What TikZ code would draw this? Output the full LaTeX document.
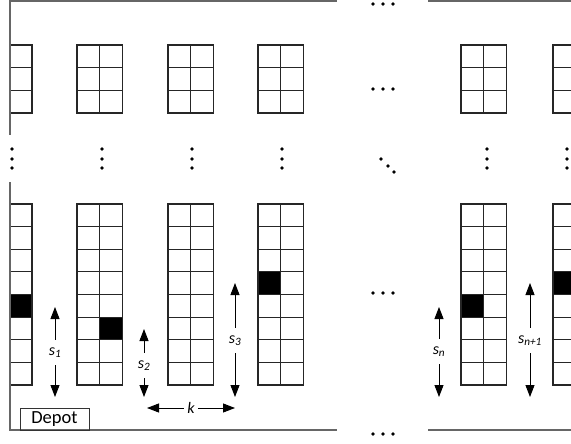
\documentclass[tikz,border=0pt]{standalone}
\usepackage{fontspec}
\setmainfont{Carlito}
\usetikzlibrary{arrows.meta}
\begin{document}
\begin{tikzpicture}[x=1pt,y=-1pt,
  cell/.style={draw=black!85, line width=1.1pt},
  wall/.style={draw=black!60, line width=1.8pt},
  dimarrow/.style={-{Triangle[length=12pt,width=9pt]}, line width=0.9pt},
  lbl/.style={font=\fontsize{16}{16}\selectfont\itshape, inner sep=0pt, minimum height=25pt, minimum width=14pt},
  depotbox/.style={draw=black!80, line width=1pt, font=\fontsize{18.5}{18.5}\selectfont, inner sep=0pt, minimum width=69pt, minimum height=22pt},
  bigdot/.style={fill=black}]
\useasboundingbox (0,0) rectangle (571,444);
% ---------- blocks ----------
\begin{scope}
\clip (10,-5) rectangle (571,444);
% black cells
\fill (9.25,294.5) rectangle ++(22.75,22.6);
\fill (99.75,317.1) rectangle ++(22.75,22.6);
\fill (258,271.9) rectangle ++(22.75,22.6);
\fill (461,294.5) rectangle ++(22.75,22.6);
\fill (553,271.9) rectangle ++(22.75,22.6);
\foreach \bx in {-13.5,77,168,258,461,553} {
  % top block: 3 rows
  \draw[cell] (\bx,45) rectangle ++(45.5,68);
  \draw[cell] (\bx+22.75,45) -- ++(0,68);
  \foreach \r in {1,2} \draw[cell] (\bx,45+\r*22.667) -- ++(45.5,0);
  % bottom block: 8 rows
  \draw[cell] (\bx,204) rectangle ++(45.5,181);
  \draw[cell] (\bx+22.75,204) -- ++(0,181);
  \foreach \r in {1,...,7} \draw[cell] (\bx,204+\r*22.625) -- ++(45.5,0);
}
\end{scope}
% ---------- walls ----------
\draw[wall] (10,0) -- (10,135);
\draw[wall] (10,182) -- (10,430);
\draw[wall] (9.1,1) -- (337,1);
\draw[wall] (428,1) -- (571,1);
\draw[wall] (9.1,430) -- (337,430);
\draw[wall] (428,430) -- (571,430);
% ---------- dots ----------
\foreach \y in {4,89,293,434}
  \foreach \x in {373,383,393} \fill[bigdot] (\x,\y) circle (1.9pt);
\foreach \x in {12,102,192,282,487,567}
  \foreach \y in {149,159,168} \fill[bigdot] (\x,\y) circle (1.9pt);
\fill[bigdot] (381,159) circle (1.9pt);
\fill[bigdot] (388,166) circle (1.9pt);
\fill[bigdot] (394,172) circle (1.9pt);
% ---------- depot ----------
\node[depotbox] (depot) at (54.5,419) {Depot};
% ---------- dimension arrows ----------
\node[lbl] (s1) at (55,352.5) {s\textsubscript{1}};
\coordinate (s1u) at (55,307);
\coordinate (s1d) at (55,397);
\draw[dimarrow] (s1.north) -- (s1u);
\draw[dimarrow] (s1.south) -- (s1d);
\node[lbl] (s2) at (144,365.5) {s\textsubscript{2}};
\coordinate (s2u) at (144,329);
\coordinate (s2d) at (144,397);
\draw[dimarrow] (s2.north) -- (s2u);
\draw[dimarrow] (s2.south) -- (s2d);
\node[lbl] (s3) at (235,340.5) {s\textsubscript{3}};
\coordinate (s3u) at (235,283);
\coordinate (s3d) at (235,397);
\draw[dimarrow] (s3.north) -- (s3u);
\draw[dimarrow] (s3.south) -- (s3d);
\node[lbl] (sn) at (439,351.5) {s\textsubscript{n}};
\coordinate (snu) at (439,307);
\coordinate (snd) at (439,397);
\draw[dimarrow] (sn.north) -- (snu);
\draw[dimarrow] (sn.south) -- (snd);
\node[lbl] (sn1) at (530,340.5) {s\textsubscript{n+1}};
\coordinate (sn1u) at (530,283);
\coordinate (sn1d) at (530,397);
\draw[dimarrow] (sn1.north) -- (sn1u);
\draw[dimarrow] (sn1.south) -- (sn1d);
\node[lbl, minimum height=0pt] (k) at (191,408) {k};
\coordinate (kl) at (147,408);
\coordinate (kr) at (235,408);
\draw[dimarrow] (k.west) -- (kl);
\draw[dimarrow] (k.east) -- (kr);
\end{tikzpicture}
\end{document}
